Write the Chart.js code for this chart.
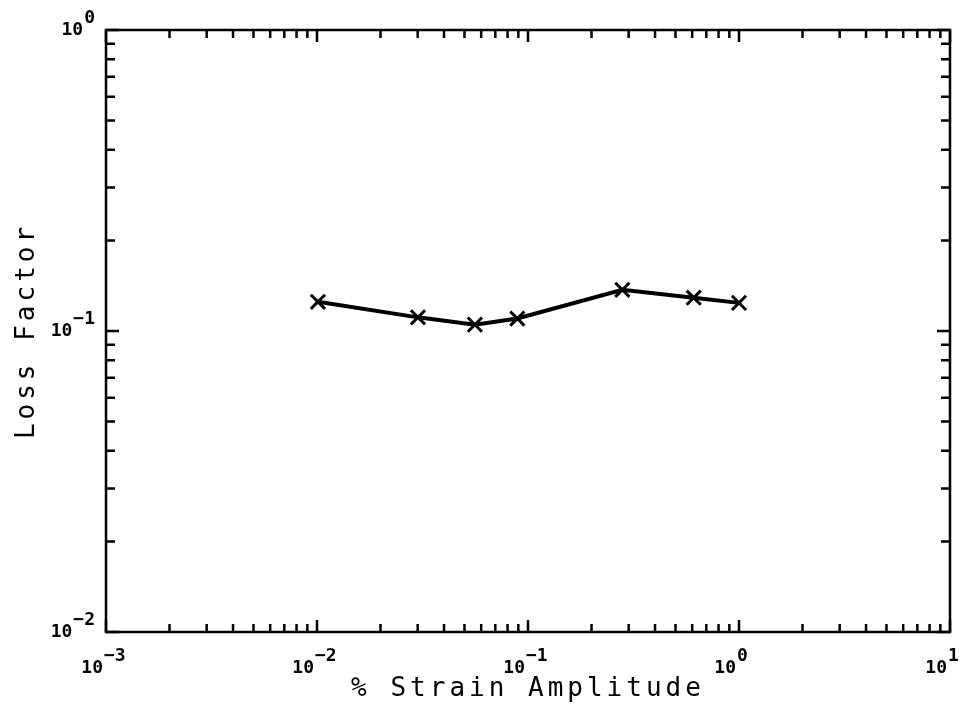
<!DOCTYPE html>
<html>
<head>
<meta charset="utf-8">
<script src="https://cdn.jsdelivr.net/npm/chart.js@4.4.1/dist/chart.umd.min.js"></script>
<style>
  html, body { margin: 0; padding: 0; background: #fff; }
  #wrap { width: 966px; height: 710px; }
</style>
</head>
<body>
<div id="wrap"><canvas id="lossChart"></canvas></div>
<script>
// values
const strain = [0.0101, 0.0301, 0.056, 0.089, 0.28, 0.61, 1.0];
const lossFactor = [0.125, 0.111, 0.105, 0.110, 0.137, 0.129, 0.124];

// decade exponents used for tick labels
const xDecades = [-3, -2, -1, 0, 1];
const yDecades = [-2, -1, 0];

const xTitle = '% Strain Amplitude';
const yTitle = 'Loss Factor';

const TITLE_FONT = '26px "DejaVu Sans Mono"';
const LABEL_FONT = 'bold 18px "DejaVu Sans Mono"';

function minorValues(decades) {
    let out = [];
    for (let i = 0; i < decades.length - 1; i++) {
        for (let m = 2; m <= 9; m++) out.push(m * Math.pow(10, decades[i]));
    }
    return out;
}

function drawPower(ctx, exp, px, py, alignRight) {
    // "10" with raised exponent
    ctx.font = LABEL_FONT;
    const base = '10';
    const sup = exp < 0 ? '\u2212' + (-exp) : String(exp);
    const bw = ctx.measureText(base).width;
    const sw = ctx.measureText(sup).width;
    ctx.textBaseline = 'middle';
    ctx.textAlign = 'left';
    let bx;
    if (alignRight) {
        bx = px - bw - sw - 1;
    } else {
        bx = px - bw - 3;
    }
    ctx.fillText(base, bx, py);
    ctx.fillText(sup, bx + bw + 1, py - 12);
}

const frame = {
    id: 'frame',
    afterDraw(chart) {
        const ctx = chart.ctx;
        const a = chart.chartArea;
        const x = chart.scales.x;
        const y = chart.scales.y;
        ctx.save();
        ctx.strokeStyle = '#000';
        ctx.fillStyle = '#000';
        ctx.lineWidth = 2.5;
        ctx.strokeRect(a.left, a.top, a.right - a.left, a.bottom - a.top);

        ctx.lineWidth = 2.5;
        ctx.beginPath();
        // x ticks, bottom and top, pointing in
        minorValues(xDecades).forEach(v => {
            const px = x.getPixelForValue(v);
            ctx.moveTo(px, a.bottom); ctx.lineTo(px, a.bottom - 8);
            ctx.moveTo(px, a.top); ctx.lineTo(px, a.top + 8);
        });
        xDecades.forEach(d => {
            const px = x.getPixelForValue(Math.pow(10, d));
            ctx.moveTo(px, a.bottom); ctx.lineTo(px, a.bottom - 12);
            ctx.moveTo(px, a.top); ctx.lineTo(px, a.top + 12);
        });
        // y ticks, left and right
        minorValues(yDecades).forEach(v => {
            const py = y.getPixelForValue(v);
            ctx.moveTo(a.left, py); ctx.lineTo(a.left + 9, py);
            ctx.moveTo(a.right, py); ctx.lineTo(a.right - 9, py);
        });
        yDecades.forEach(d => {
            const py = y.getPixelForValue(Math.pow(10, d));
            ctx.moveTo(a.left, py); ctx.lineTo(a.left + 13, py);
            ctx.moveTo(a.right, py); ctx.lineTo(a.right - 13, py);
        });
        ctx.stroke();

        // tick labels
        xDecades.forEach(d => {
            const px = x.getPixelForValue(Math.pow(10, d));
            drawPower(ctx, d, px, a.bottom + 36, false);
        });
        yDecades.forEach(d => {
            const py = y.getPixelForValue(Math.pow(10, d));
            drawPower(ctx, d, a.left - 11, py, true);
        });

        // axis titles
        ctx.font = TITLE_FONT;
        ctx.letterSpacing = '4px';
        ctx.textAlign = 'center';
        ctx.textBaseline = 'middle';
        ctx.fillText(xTitle, (a.left + a.right) / 2, a.bottom + 57);
        ctx.translate(27, (a.top + a.bottom) / 2);
        ctx.rotate(-Math.PI / 2);
        ctx.fillText(yTitle, 0, 0);
        ctx.restore();
    }
};

const config = {
    type: 'line',
    data: {
        datasets: [{
            label: 'Loss Factor',
            data: strain.map((s, i) => ({ x: s, y: lossFactor[i] })),
            borderColor: '#000',
            backgroundColor: '#000',
            borderWidth: 4,
            pointStyle: 'crossRot',
            pointRadius: 10,
            pointBorderWidth: 3,
            tension: 0
        }]
    },
    options: {
        responsive: true,
        maintainAspectRatio: false,
        animation: false,
        layout: { padding: { left: 106, right: 16, top: 30, bottom: 78 } },
        plugins: { legend: { display: false }, tooltip: { enabled: false } },
        scales: {
            x: {
                type: 'logarithmic',
                min: 0.001,
                max: 10,
                grid: { display: false, drawTicks: false },
                border: { display: false },
                ticks: { display: false }
            },
            y: {
                type: 'logarithmic',
                min: 0.01,
                max: 1,
                grid: { display: false, drawTicks: false },
                border: { display: false },
                ticks: { display: false }
            }
        }
    },
    plugins: [frame]
};

new Chart(document.getElementById('lossChart'), config);
</script>
</body>
</html>
